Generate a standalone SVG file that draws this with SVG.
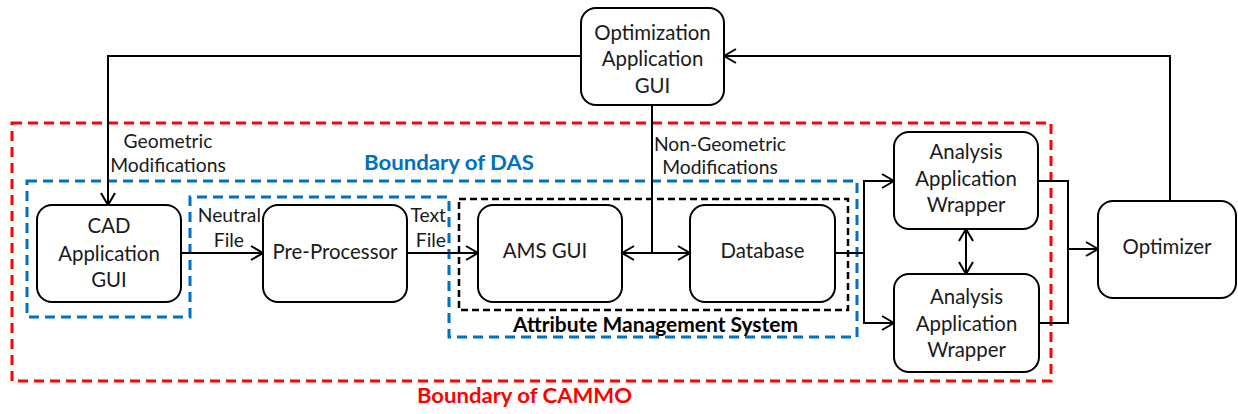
<svg xmlns="http://www.w3.org/2000/svg" width="1238" height="414" viewBox="0 0 1238 414">
  <style>
    .node rect { fill: #fff; stroke: #000; stroke-width: 2; }
    .lbl { font-family: Lato, "Open Sans", sans-serif; font-size: 20.4px; fill: #1a1a1a; text-anchor: middle; }
    .small { font-family: Lato, "Open Sans", sans-serif; font-size: 19.3px; fill: #1a1a1a; }
    .bnd { fill: none; stroke-width: 3; stroke-dasharray: 10 6; }
    .title { font-family: Lato, "Open Sans", sans-serif; font-weight: bold; font-size: 20.5px; }
    .conn path { fill: none; stroke: #000; stroke-width: 2; }
  </style>
  <defs>
    <marker id="arr" viewBox="0 0 14 16" refX="13" refY="8" markerWidth="14" markerHeight="16" markerUnits="userSpaceOnUse" orient="auto-start-reverse">
      <path d="M1,1 L13,8 L1,15" fill="none" stroke="#000" stroke-width="2"/>
    </marker>
  </defs>
  <rect width="1238" height="414" fill="#fff"/>

  <!-- system boundaries -->
  <g id="boundaries">
    <rect x="12" y="123" width="1039" height="258" class="bnd" stroke="#ff0000"/>
    <polygon points="27,181 857,181 857,337 449,337 449,197 190,197 190,317 27,317" class="bnd" stroke="#0070c0"/>
    <rect x="459" y="199" width="389" height="111" fill="none" stroke="#000" stroke-width="2.5" stroke-dasharray="7 4"/>
    <text x="364" y="170" class="title" fill="#0070c0" textLength="170" lengthAdjust="spacingAndGlyphs">Boundary of DAS</text>
    <text x="417" y="403" class="title" fill="#ff0000" textLength="215" lengthAdjust="spacingAndGlyphs">Boundary of CAMMO</text>
    <text x="513" y="332" class="title" fill="#000" textLength="285" lengthAdjust="spacingAndGlyphs">Attribute Management System</text>
  </g>

  <!-- connectors -->
  <g id="connectors" class="conn">
    <path d="M581,56 H108 V205" marker-end="url(#arr)"/>
    <path d="M1170,201 V56 H724" marker-end="url(#arr)"/>
    <path d="M181,253 H263" marker-end="url(#arr)"/>
    <path d="M407,253 H478" marker-end="url(#arr)"/>
    <path d="M622,253 H690" marker-start="url(#arr)" marker-end="url(#arr)"/>
    <path d="M652,105 V253"/>
    <path d="M835,253 H864"/>
    <path d="M864,253 V181 H894" marker-end="url(#arr)"/>
    <path d="M864,253 V323 H894" marker-end="url(#arr)"/>
    <path d="M966,229 V274" marker-start="url(#arr)" marker-end="url(#arr)"/>
    <path d="M1038,181 H1068 V323 H1039"/>
    <path d="M1068,249 H1098" marker-end="url(#arr)"/>
    <text class="small" x="168" y="148" text-anchor="middle">Geometric</text>
    <text class="small" x="168" y="172" text-anchor="middle">Modifications</text>
    <text class="small" x="720" y="151" text-anchor="middle">Non-Geometric</text>
    <text class="small" x="720" y="174" text-anchor="middle">Modifications</text>
    <text class="small" x="261" y="222" text-anchor="end">Neutral</text>
    <text class="small" x="244" y="247" text-anchor="end">File</text>
    <text class="small" x="446" y="222" text-anchor="end">Text</text>
    <text class="small" x="446" y="247" text-anchor="end">File</text>
  </g>

  <g id="opt-gui" class="node">
    <rect x="581" y="8" width="143" height="97" rx="15"/>
    <text class="lbl" x="652.5" y="40">Optimization</text>
    <text class="lbl" x="652.5" y="66">Application</text>
    <text class="lbl" x="652.5" y="93">GUI</text>
  </g>
  <g id="cad-gui" class="node">
    <rect x="37" y="205" width="144" height="97" rx="15"/>
    <text class="lbl" x="109" y="233">CAD</text>
    <text class="lbl" x="109" y="261">Application</text>
    <text class="lbl" x="109" y="287">GUI</text>
  </g>
  <g id="pre-processor" class="node">
    <rect x="263" y="205" width="144" height="97" rx="15"/>
    <text class="lbl" x="335" y="259">Pre-Processor</text>
  </g>
  <g id="ams-gui" class="node">
    <rect x="478" y="205" width="144" height="97" rx="15"/>
    <text class="lbl" x="545" y="258">AMS GUI</text>
  </g>
  <g id="database" class="node">
    <rect x="690" y="205" width="145" height="97" rx="15"/>
    <text class="lbl" x="762.5" y="258">Database</text>
  </g>
  <g id="wrapper-1" class="node">
    <rect x="894" y="132" width="144" height="97" rx="15"/>
    <text class="lbl" x="966" y="159">Analysis</text>
    <text class="lbl" x="966" y="186">Application</text>
    <text class="lbl" x="966" y="212">Wrapper</text>
  </g>
  <g id="wrapper-2" class="node">
    <rect x="894" y="274" width="145" height="98" rx="15"/>
    <text class="lbl" x="966.5" y="304">Analysis</text>
    <text class="lbl" x="966.5" y="331">Application</text>
    <text class="lbl" x="966.5" y="357">Wrapper</text>
  </g>
  <g id="optimizer" class="node">
    <rect x="1098" y="201" width="138" height="97" rx="15"/>
    <text class="lbl" x="1167" y="254">Optimizer</text>
  </g>
</svg>
